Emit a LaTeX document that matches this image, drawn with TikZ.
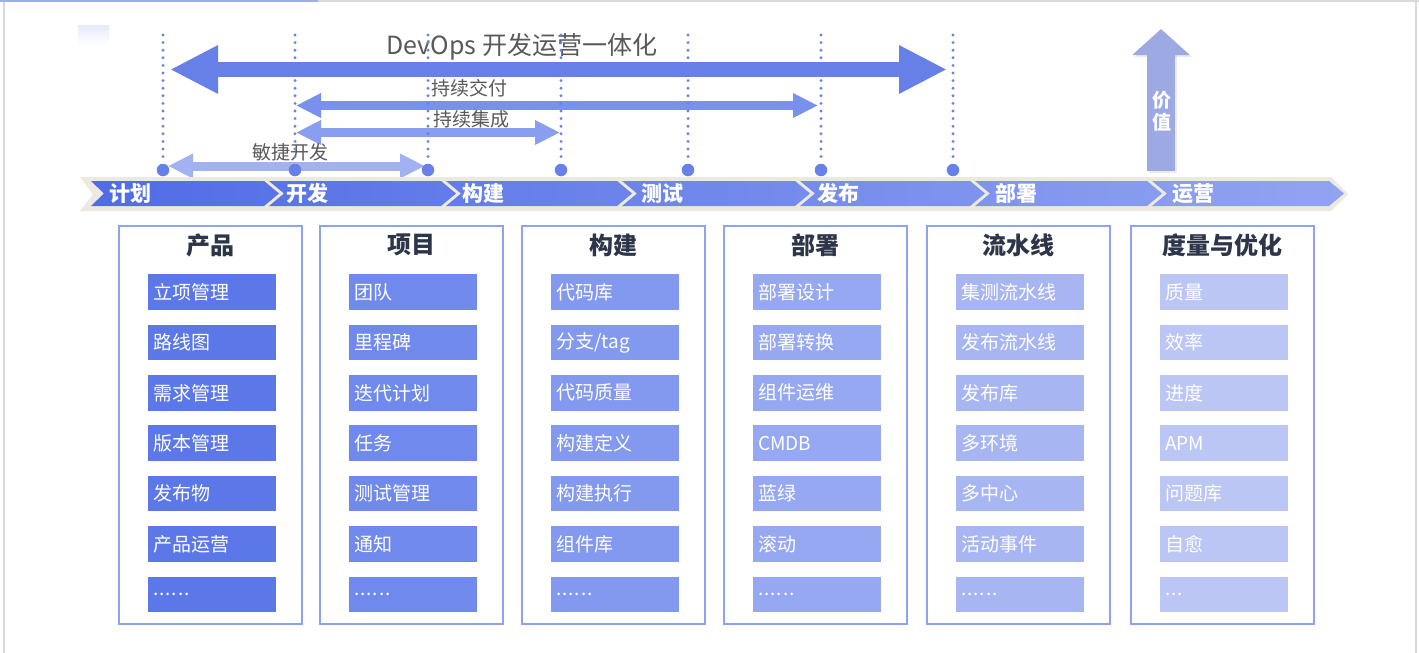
\documentclass[tikz,border=0pt]{standalone}
\usepackage{fontspec}
\setmainfont{Noto Sans CJK SC}
\usetikzlibrary{arrows.meta}
\definecolor{framegray}{HTML}{D9D9D9}
\definecolor{frameblue}{HTML}{9DAEEC}
\definecolor{beige}{HTML}{ECE9E1}
\definecolor{segL}{HTML}{506CE6}
\definecolor{segR}{HTML}{92A4F0}
\definecolor{dotblue}{HTML}{6880EA}
\definecolor{arrA}{HTML}{6680E8}
\definecolor{arrB}{HTML}{7990EC}
\definecolor{arrC}{HTML}{8A9EEF}
\definecolor{arrD}{HTML}{A1B1F2}
\definecolor{valuec}{HTML}{9DA9E2}
\definecolor{labgray}{HTML}{595959}
\definecolor{titlec}{HTML}{2D3549}
\definecolor{colborder}{HTML}{8DA2F0}
\definecolor{itemA}{HTML}{5B77E8}
\definecolor{itemB}{HTML}{6F8AEC}
\definecolor{itemC}{HTML}{8399EF}
\definecolor{itemD}{HTML}{97A8F2}
\definecolor{itemE}{HTML}{A8B5F3}
\definecolor{itemF}{HTML}{BBC6F5}
\definecolor{faint}{HTML}{E6EBFA}
\newcommand{\dsix}{.\kern1pt.\kern1pt.\kern1pt.\kern1pt.\kern1pt.}
\newcommand{\dthree}{.\kern1pt.\kern1pt.}
\tikzset{
  dotline/.style={dotblue, line width=3.2pt, line cap=round, dash pattern=on 0pt off 7.6pt},
  dotend/.style={circle, fill=dotblue, inner sep=0pt, minimum size=12.5pt},
  bigarrow/.style={line width=15pt, arrA, {Triangle[length=48pt,width=45pt]}-{Triangle[length=48pt,width=45pt]}},
  midarrow/.style={line width=9pt, {Triangle[length=25pt,width=23pt]}-{Triangle[length=25pt,width=23pt]}},
  arrlabel/.style={text=labgray, font=\fontsize{19}{19}\selectfont, inner sep=0pt},
  seglabel/.style={text=white, font=\bfseries\fontsize{21}{21}\selectfont, anchor=west, inner sep=0pt},
  colbox/.style={draw=colborder, line width=1.3pt, fill=white, minimum width=183pt, minimum height=398pt, inner sep=0pt},
  coltitle/.style={text=titlec, font=\bfseries\fontsize{24}{24}\selectfont, inner sep=0pt},
  itembox/.style={minimum width=128.5pt, minimum height=35.5pt, text width=117.5pt, inner xsep=5.5pt, inner ysep=0pt, align=left, text=white, font=\fontsize{19}{22}\selectfont},
}
\newcommand{\devcol}[5]{%
  \node[colbox] (col#1) at (#2+91.5, 425) {};
  \node[coltitle] (title#1) at (#2+91.5, 245) {#3};
  \foreach \t [count=\r] in {#5} {
    \node[itembox, fill=#4] (item#1-\r) at (#2+28.5+64.25, {292+(\r-1)*50.4}) {\t};
  }
}
\begin{document}
\begin{tikzpicture}[x=1pt,y=-1pt]
\useasboundingbox (0,0) rectangle (1419,653);
\fill[white] (0,0) rectangle (1419,653);
% frame
\draw[framegray, line width=2pt] (4,0) -- (4,653);
\draw[framegray, line width=2pt] (1416,0) -- (1416,653);
\draw[framegray, line width=2pt] (0,1) -- (1419,1);
\draw[frameblue, line width=2pt] (0,1) -- (318,1);
\shade[top color=faint, bottom color=white] (78,25) rectangle (109,45);

% arrows
\coordinate (devL) at (170,69.5);
\coordinate (devR) at (947,69.5);
\draw[bigarrow] (devL) -- (devR);
\node[arrlabel, font=\fontsize{25}{25}\selectfont] (devlab) at (522,47) {DevOps 开发运营一体化};

\coordinate (cdL) at (296,105.5);
\coordinate (cdR) at (818,105.5);
\draw[midarrow, arrB] (cdL) -- (cdR);
\node[arrlabel] (cdlab) at (469,88) {持续交付};

\coordinate (ciL) at (296,132.5);
\coordinate (ciR) at (560,132.5);
\draw[midarrow, arrC] (ciL) -- (ciR);
\node[arrlabel] (cilab) at (471,119) {持续集成};

\coordinate (agL) at (168,166);
\coordinate (agR) at (425,166);
\draw[midarrow, arrD] (agL) -- (agR);
\node[arrlabel] (aglab) at (290,152) {敏捷开发};

% dotted lines with end dots
\foreach \x [count=\i] in {163,295,428,561,688,821,953} {
  \coordinate (dt\i) at (\x,35);
  \node[dotend] (dc\i) at (\x,170) {};
  \draw[dotline] (dt\i) -- (dc\i);
}

% value arrow
\coordinate (vb) at (1161,171);
\coordinate (vt) at (1161,29);
\draw[line width=28pt, black, opacity=0.08, -{Triangle[length=26pt,width=56pt]}] ([shift={(2,2)}]vb) -- ([shift={(2,2)}]vt);
\draw[line width=28pt, valuec, -{Triangle[length=26pt,width=56pt]}] (vb) -- (vt);
\node[text=white, font=\bfseries\fontsize{19}{22}\selectfont, align=center, inner sep=0pt] (valuelab) at (1162,111) {价\\值};

% chevron band
\fill[beige] (80,177) -- (1331,177) -- (1348,194) -- (1331,211) -- (80,211) -- (93,194) -- cycle;
\shade[left color=segL, right color=segR]
  (91,181) -- (264,181) -- (279,193.5) -- (264,206) -- (91,206) -- (104,193.5) -- cycle
  (269,181) -- (441,181) -- (456,193.5) -- (441,206) -- (269,206) -- (284,193.5) -- cycle
  (446,181) -- (617,181) -- (632,193.5) -- (617,206) -- (446,206) -- (461,193.5) -- cycle
  (622,181) -- (795,181) -- (810,193.5) -- (795,206) -- (622,206) -- (637,193.5) -- cycle
  (800,181) -- (970,181) -- (985,193.5) -- (970,206) -- (800,206) -- (815,193.5) -- cycle
  (975,181) -- (1147,181) -- (1162,193.5) -- (1147,206) -- (975,206) -- (990,193.5) -- cycle
  (1152,181) -- (1329,181) -- (1344,193.5) -- (1329,206) -- (1152,206) -- (1167,193.5) -- cycle;
\foreach \x/\t [count=\i] in {109/计划,286/开发,462/构建,641/测试,817/发布,995/部署,1172/运营} {
  \node[seglabel] (seg\i) at (\x,193.5) {\t};
}

% columns
\devcol{1}{119}{产品}{itemA}{立项管理,路线图,需求管理,版本管理,发布物,产品运营,\dsix}
\devcol{2}{320}{项目}{itemB}{团队,里程碑,迭代计划,任务,测试管理,通知,\dsix}
\devcol{3}{522}{构建}{itemC}{代码库,{分支/tag},代码质量,构建定义,构建执行,组件库,\dsix}
\devcol{4}{724}{部署}{itemD}{部署设计,部署转换,组件运维,CMDB,蓝绿,滚动,\dsix}
\devcol{5}{927}{流水线}{itemE}{集测流水线,发布流水线,发布库,多环境,多中心,活动事件,\dsix}
\devcol{6}{1131}{度量与优化}{itemF}{质量,效率,进度,APM,问题库,自愈,\dthree}
\end{tikzpicture}
\end{document}
